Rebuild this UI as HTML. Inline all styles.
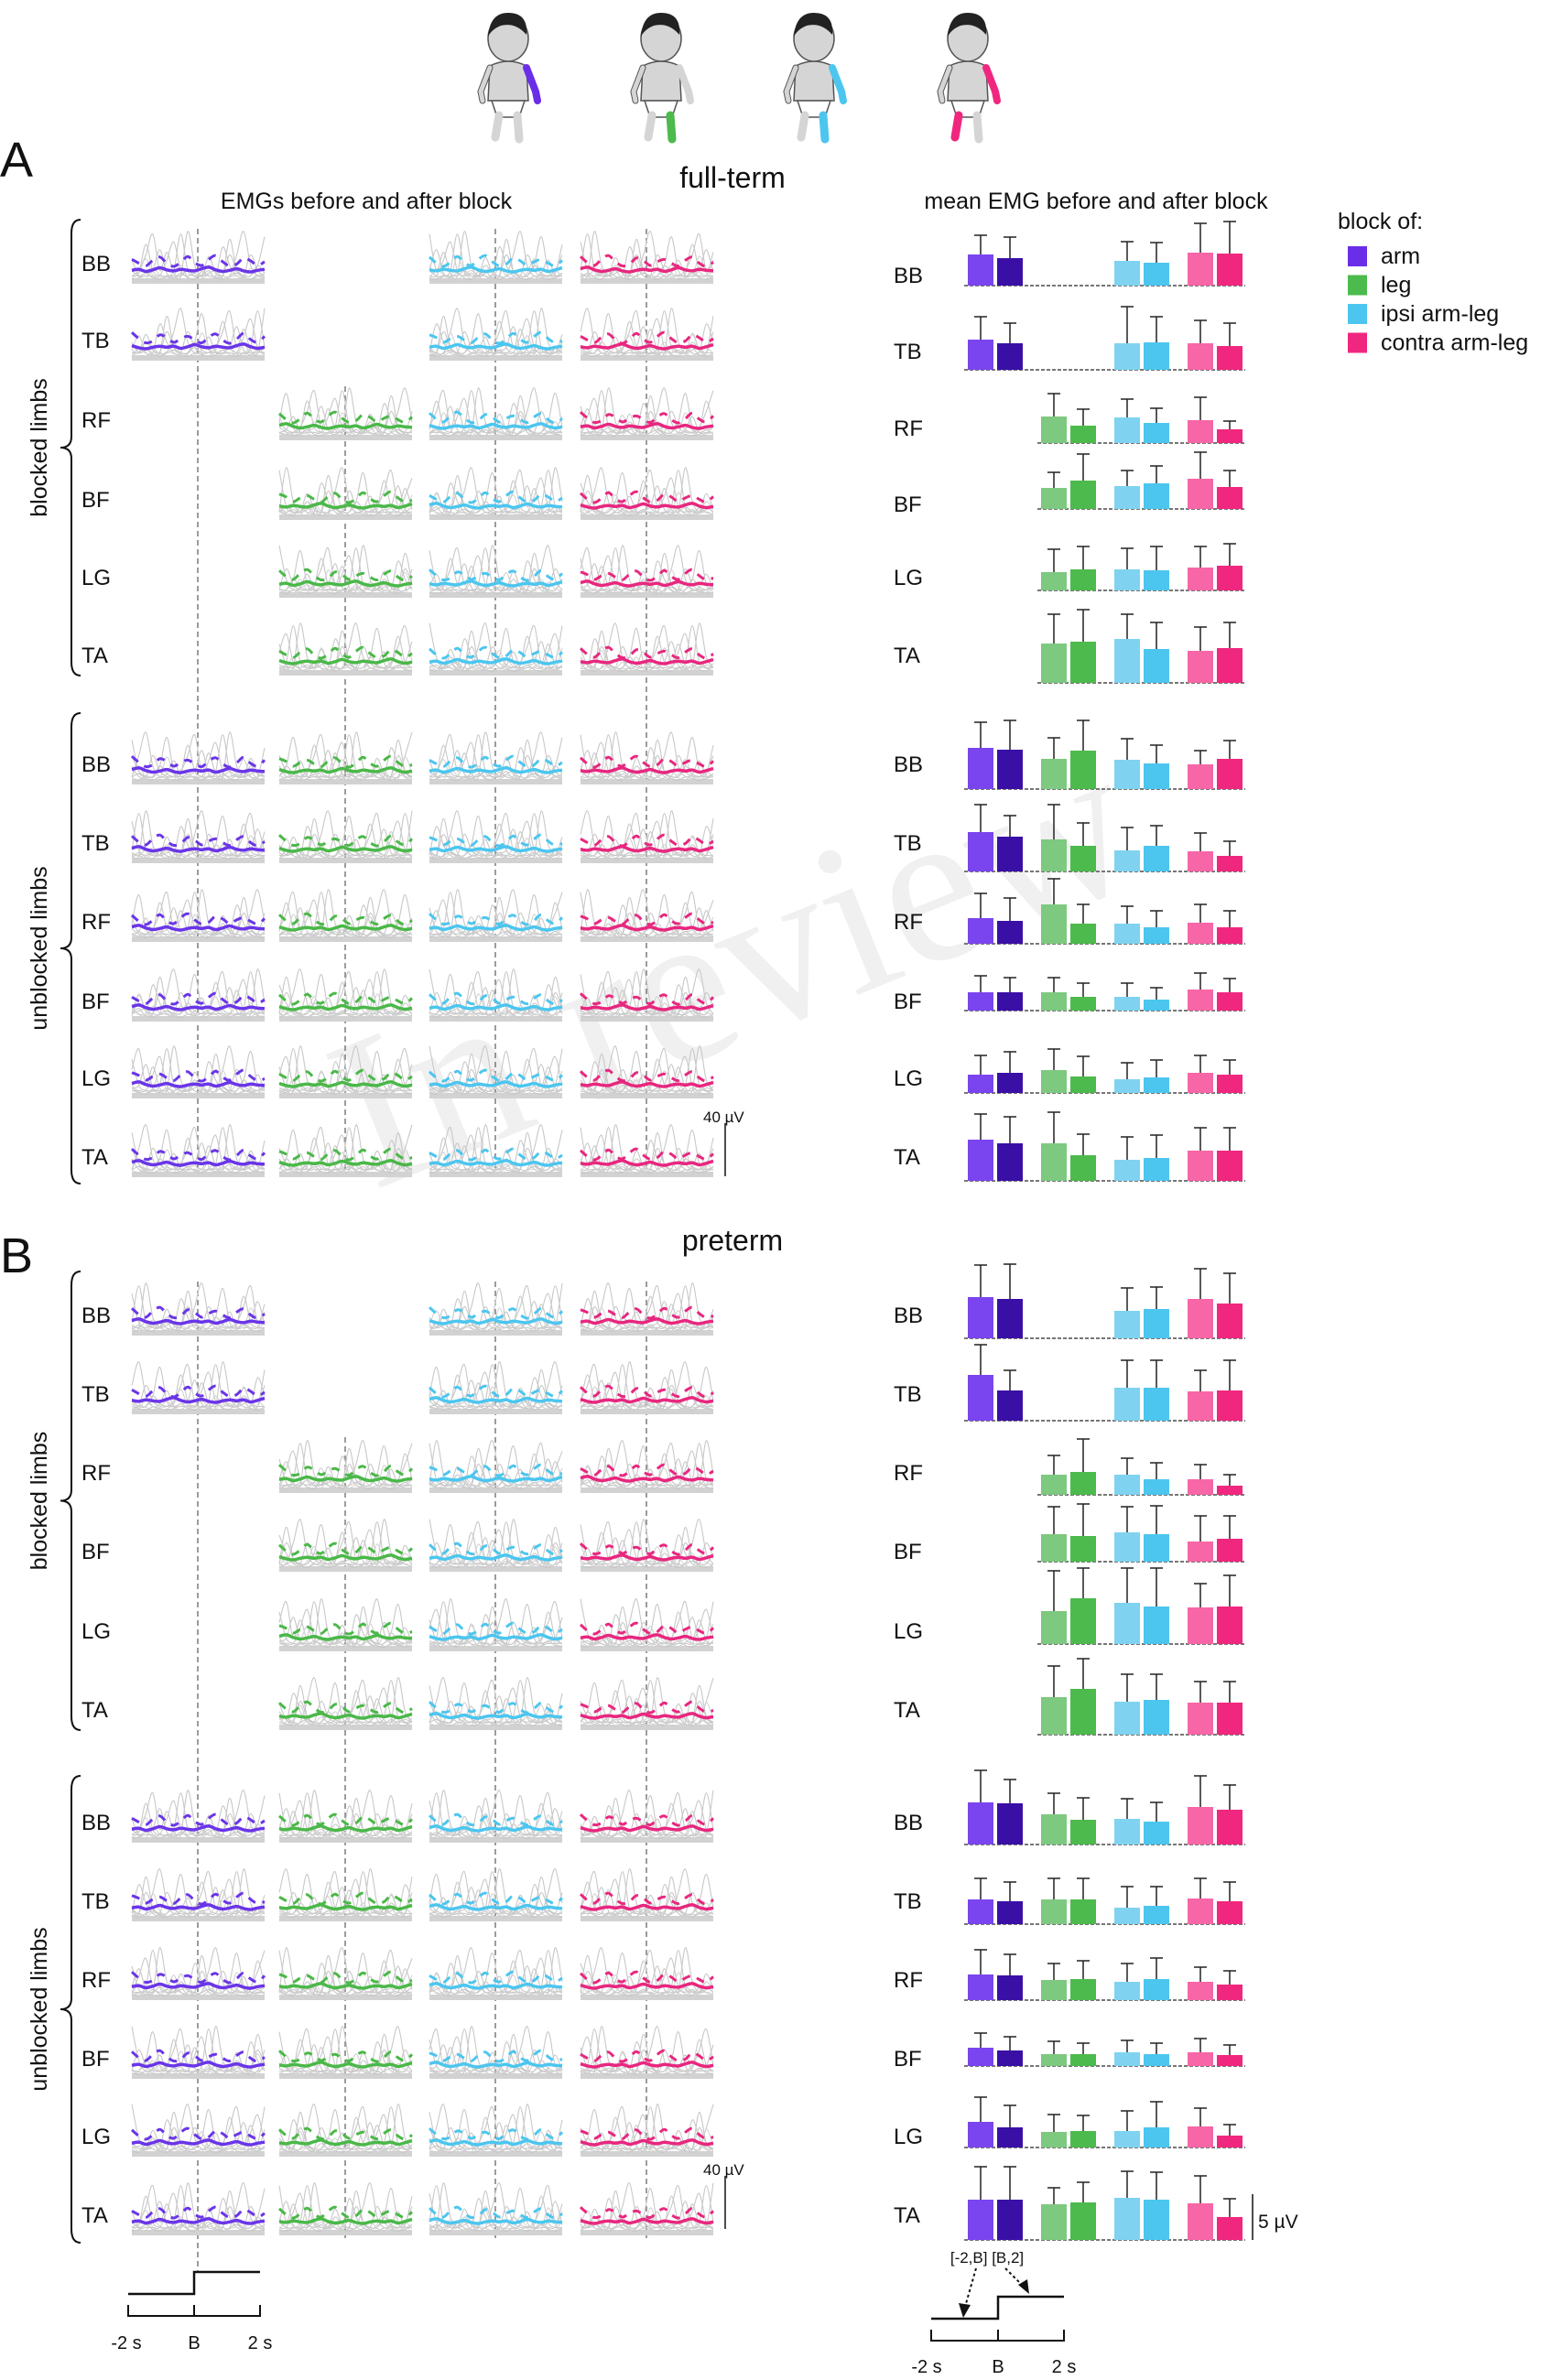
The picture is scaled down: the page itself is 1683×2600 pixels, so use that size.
<!DOCTYPE html>
<html><head><meta charset="utf-8"><style>
html,body{margin:0;padding:0;background:#fff}
svg{display:block}
text{font-family:"Liberation Sans",sans-serif;fill:#111}
</style></head><body>
<svg id="fig" width="1683" height="2600" viewBox="0 0 1683 2600" xmlns="http://www.w3.org/2000/svg">
<text x="830" y="1130" font-size="240" text-anchor="middle" transform="rotate(-22 830 1130)" style="fill:#f0f0f0;font-family:'Liberation Serif',serif">In review</text>
<g id="babies"></g>
<text x="0" y="193" font-size="54">A</text>
<text x="0" y="1390" font-size="54">B</text>
<text x="800" y="205" font-size="32" text-anchor="middle">full-term</text>
<text x="800" y="1366" font-size="32" text-anchor="middle">preterm</text>
<text x="400" y="228" font-size="25" text-anchor="middle">EMGs before and after block</text>
<text x="1197" y="228" font-size="25" text-anchor="middle">mean EMG before and after block</text>
<g id="legend">
<text x="1461" y="250" font-size="25">block of:</text>
</g>
<g id="left"></g>
<g id="right"></g>
</svg>
<script>
// ---- bar chart data (µV): order arm-before, arm-after, leg-before, leg-after, ipsi-before, ipsi-after, contra-before, contra-after
const muscles = ["BB","TB","RF","BF","LG","TA"];
const ftBlockedMean = [
 [3.4,3.0,null,null,2.7,2.5,3.6,3.5],
 [3.3,2.9,null,null,2.9,3.0,2.9,2.6],
 [null,null,2.9,1.9,2.8,2.2,2.5,1.5],
 [null,null,2.3,3.1,2.5,2.8,3.3,2.4],
 [null,null,2.0,2.3,2.3,2.2,2.5,2.7],
 [null,null,4.3,4.5,4.8,3.7,3.5,3.8]];
const ftBlockedUpper = [
 [5.5,5.3,null,null,4.8,4.7,6.8,7.0],
 [5.8,5.1,null,null,6.9,5.8,5.4,5.1],
 [null,null,5.4,3.7,4.8,3.8,5.0,2.4],
 [null,null,4.0,6.0,4.2,4.7,6.2,4.2],
 [null,null,4.5,4.8,4.6,4.8,4.8,5.1],
 [null,null,7.5,8.0,7.5,6.6,6.1,6.6]];
const ftUnblockedMean = [
 [4.5,4.3,3.3,4.2,3.2,2.8,2.7,3.3],
 [4.3,3.8,3.5,2.8,2.3,2.8,2.2,1.7],
 [2.8,2.5,4.3,2.2,2.2,1.8,2.3,1.8],
 [2.0,2.0,2.0,1.5,1.5,1.2,2.3,2.0],
 [2.0,2.2,2.5,1.8,1.5,1.7,2.2,2.0],
 [4.5,4.1,4.1,2.8,2.3,2.5,3.3,3.3]];
const ftUnblockedUpper = [
 [7.3,7.5,5.6,7.5,5.5,4.8,4.2,5.3],
 [7.3,6.1,7.3,5.3,4.8,5.0,4.2,3.3],
 [5.5,5.0,7.1,4.3,4.1,3.6,4.3,3.6],
 [3.8,3.6,3.6,3.0,3.0,2.5,4.1,3.5],
 [4.1,4.5,4.8,4.0,3.3,3.6,4.1,3.6],
 [7.3,7.0,7.5,5.1,4.8,5.0,5.8,5.8]];
const ptBlockedMean = [
 [4.5,4.3,null,null,3.0,3.2,4.3,3.8],
 [5.0,3.3,null,null,3.6,3.6,3.2,3.3],
 [null,null,2.2,2.5,2.2,1.7,1.7,1.0],
 [null,null,3.0,2.8,3.2,3.0,2.2,2.5],
 [null,null,3.6,5.0,4.5,4.1,4.0,4.1],
 [null,null,4.1,5.0,3.6,3.8,3.5,3.5]];
const ptBlockedUpper = [
 [8.0,8.1,null,null,5.5,5.6,7.6,7.1],
 [8.3,5.5,null,null,6.6,6.6,5.5,6.6],
 [null,null,4.3,6.1,4.0,3.5,3.3,2.2],
 [null,null,6.0,6.3,6.0,6.1,5.0,5.0],
 [null,null,8.0,8.3,8.3,8.3,6.6,7.5],
 [null,null,7.5,8.3,6.6,6.6,5.8,5.8]];
const ptUnblockedMean = [
 [4.6,4.5,3.3,2.7,2.8,2.5,4.1,3.8],
 [2.7,2.5,2.7,2.7,1.8,2.0,2.8,2.5],
 [2.8,2.7,2.2,2.3,2.0,2.3,2.0,1.7],
 [2.0,1.7,1.3,1.3,1.5,1.3,1.5,1.2],
 [2.8,2.2,1.7,1.8,1.8,2.2,2.3,1.3],
 [4.4,4.4,3.9,4.1,4.6,4.4,4.0,2.5]];
const ptUnblockedUpper = [
 [8.1,7.1,5.6,5.1,5.0,4.6,7.5,6.5],
 [5.0,4.6,5.0,5.0,4.1,4.1,5.0,4.6],
 [5.5,5.0,4.0,4.3,4.0,4.6,3.6,3.2],
 [3.6,3.2,2.7,2.5,2.8,2.5,3.0,2.3],
 [5.5,4.6,3.6,3.5,4.0,5.0,4.3,2.5],
 [8.0,8.0,5.7,6.3,7.5,7.4,7.0,4.5]];
const legendLabels = ["arm","leg","ipsi arm-leg","contra arm-leg"];

// ---- EMG trace shapes (fraction of panel height)
const grayTrace1 = [0.1,0.15,0.7,0.2,0.1,0.1,0.2,0.9,0.2,0.1,0.1,0.3,0.15,0.1,0.8,0.2,0.1,0.1,0.3,0.15];
const grayTrace2 = [0.2,0.1,0.1,0.3,0.85,0.2,0.1,0.15,0.2,0.6,0.15,0.1,0.1,0.95,0.3,0.1,0.15,0.2,0.1,0.5];
const grayTrace3 = [0.1,0.45,0.15,0.1,0.1,0.5,0.95,0.3,0.1,0.15,0.4,0.1,0.1,0.1,0.1,0.4,0.75,0.2,0.1,0.15];
const grayTrace4 = [0.55,0.15,0.1,0.2,0.1,0.1,0.2,0.1,0.65,0.3,0.1,0.1,0.5,0.2,0.1,0.1,0.2,0.5,0.9,0.2];
const grayTrace5 = [0.05,0.1,0.25,0.1,0.05,0.15,0.1,0.25,0.1,0.05,0.3,0.15,0.1,0.05,0.15,0.25,0.1,0.05,0.15,0.1];
const meanTrace = [0.24,0.26,0.22,0.25,0.29,0.25,0.23,0.26,0.24,0.23,0.27,0.3,0.25,0.22,0.24,0.27,0.23,0.21,0.24,0.26];
const dashTrace = [0.5,0.42,0.36,0.48,0.55,0.42,0.35,0.44,0.56,0.43,0.37,0.5,0.58,0.45,0.36,0.4,0.53,0.47,0.37,0.45];

const NS="http://www.w3.org/2000/svg";
function mk(tag,attrs,parent){const e=document.createElementNS(NS,tag);for(const k in attrs)e.setAttribute(k,attrs[k]);parent.appendChild(e);return e;}

const barCols=[["#7a45ee","#3a0fa6"],["#7dc97f","#4cba4c"],["#7fd3f0","#4cc6ef"],["#f766a6","#f0277f"]];
const lineCols=["#6a35e8","#4ab848","#4cc6ef","#e8277f"];
const legendCols=["#6a2ee8","#4cba4c","#4cc6ef","#f0277f"];

const lg=document.getElementById('legend');
legendLabels.forEach((t,i)=>{
  const r=mk('rect',{x:1472,y:269+i*31.5,width:21,height:22,fill:legendCols[i]},lg);
  
  
  const tx=mk('text',{x:1508,y:288+i*31.5,'font-size':25},lg);tx.textContent=t;
  
  
});

const bb=document.getElementById('babies');
[555,722,889,1057].forEach((cx,i)=>{
  const g=mk('g',{},bb);
  
  
  const body="#d5d5d5",st="#555";
  mk('ellipse',{cx:cx,cy:42,rx:22,ry:25,fill:body,stroke:st,'stroke-width':1.5},g);
  mk('path',{d:`M${cx-22},40 Q${cx-20},14 ${cx},14 Q${cx+22},14 ${cx+20},38 Q${cx+8},24 ${cx-8},28 Q${cx-18},32 ${cx-22},40Z`,fill:"#222"},g);
  mk('path',{d:`M${cx-20},72 Q${cx},62 ${cx+20},72 L${cx+22},110 L${cx-22},110Z`,fill:body,stroke:st,'stroke-width':1.5},g);
  mk('path',{d:`M${cx-20},74 L${cx-30},100 L${cx-28},110`,fill:"none",stroke:st,'stroke-width':7,'stroke-linecap':'round'},g);
  mk('path',{d:`M${cx-20},74 L${cx-30},100 L${cx-28},110`,fill:"none",stroke:body,'stroke-width':5,'stroke-linecap':'round'},g);
  const armC=(i===1)?body:legendCols[i];
  mk('path',{d:`M${cx+20},74 L${cx+30},100 L${cx+32},110`,fill:"none",stroke:armC,'stroke-width':8,'stroke-linecap':'round'},g);
  mk('path',{d:`M${cx-18},110 L${cx+18},110 L${cx+12},128 L${cx-12},128Z`,fill:"#fff",stroke:st,'stroke-width':1.5},g);
  const legL=(i===3)?legendCols[3]:body, legR=(i===1||i===2)?legendCols[i]:body;
  mk('path',{d:`M${cx-10},126 L${cx-14},150`,stroke:legL,'stroke-width':9,'stroke-linecap':'round',fill:'none'},g);
  mk('path',{d:`M${cx+10},126 L${cx+12},152`,stroke:legR,'stroke-width':9,'stroke-linecap':'round',fill:'none'},g);
});

const L=document.getElementById('left');
const colX=[144,305,469,634], PW=145, PH=61;
const grays=[grayTrace1,grayTrace2,grayTrace3,grayTrace4,grayTrace5];
function rot(a,k){k=k%a.length;return a.slice(k).concat(a.slice(0,k));}
function tracePath(arr,x0,yb,h){
  const p=arr.map((v,j)=>[x0+j*PW/(arr.length-1), yb-v*h]);
  let d='M'+p[0][0].toFixed(1)+','+p[0][1].toFixed(1);
  for(let i=0;i<p.length-1;i++){
    const p0=p[Math.max(i-1,0)],p1=p[i],p2=p[i+1],p3=p[Math.min(i+2,p.length-1)];
    const c1=[p1[0]+(p2[0]-p0[0])/6,p1[1]+(p2[1]-p0[1])/6];
    const c2=[p2[0]-(p3[0]-p1[0])/6,p2[1]-(p3[1]-p1[1])/6];
    d+=` C${c1[0].toFixed(1)},${c1[1].toFixed(1)} ${c2[0].toFixed(1)},${c2[1].toFixed(1)} ${p2[0].toFixed(1)},${p2[1].toFixed(1)}`;
  }
  return d;
}
const sections=[
 {name:'full-term',labels:[287,371,458,545,630,715,834,920,1006,1093,1177,1263],vTop:[250,422,250,250],vBot:[1285,1285,1285,1285]},
 {name:'preterm',labels:[1436,1522,1608,1694,1781,1867,1990,2076,2162,2248,2333,2419],vTop:[1400,1570,1400,1400],vBot:[2482,2445,2445,2445]}
];
let pk=0;
sections.forEach((s,si)=>{
  colX.forEach((x,c)=>{
    const ln=mk('line',{x1:x+72,x2:x+72,y1:s.vTop[c],y2:s.vBot[c],stroke:'#666','stroke-width':1.3,'stroke-dasharray':'6,4'},L);
    
    
  });
  s.labels.forEach((ly,r)=>{
    const m=muscles[r%6];
    const t=mk('text',{x:89,y:ly+9,'font-size':24},L);t.textContent=m;
    
    
    const blocked=r<6;
    colX.forEach((x,c)=>{
      if(blocked && r<2 && c===1) return;
      if(blocked && r>=2 && c===0) return;
      const g=mk('g',{},L);
      
      
      const yb=ly+22, h=PH-4;
      mk('line',{x1:x,x2:x+PW,y1:yb-2,y2:yb-2,stroke:'#d2d2d2','stroke-width':6},g);
      grays.forEach((gt,gi)=>{
        mk('path',{d:tracePath(rot(gt,pk*3+gi*5),x,yb-2,h*(gi===4?0.6:1)),fill:'none',stroke:'#c8c8c8','stroke-width':1.1},g);
      });
      mk('path',{d:tracePath(rot(grayTrace2,pk*7+2),x,yb-2,h*0.5),fill:'none',stroke:'#d0d0d0','stroke-width':1},g);
      mk('path',{d:tracePath(rot(grayTrace5,pk*2+7),x,yb-2,h*0.8),fill:'none',stroke:'#d0d0d0','stroke-width':1},g);
      mk('path',{d:tracePath(rot(dashTrace,pk*4),x,yb,h*0.9),fill:'none',stroke:lineCols[c],'stroke-width':3,'stroke-dasharray':'9,8'},g);
      mk('path',{d:tracePath(rot(meanTrace,pk*5),x,yb,h),fill:'none',stroke:lineCols[c],'stroke-width':3.5},g);
      pk++;
    });
  });
  const br=si===0?[[240,738],[779,1293]]:[[1389,1890],[1940,2450]];
  const bn=['blocked limbs','unblocked limbs'];
  br.forEach((b,k)=>{
    const x=78,ym=(b[0]+b[1])/2;
    const p=mk('path',{d:`M${x+10},${b[0]} Q${x},${b[0]} ${x},${b[0]+15} L${x},${ym-12} Q${x},${ym} ${x-12},${ym} Q${x},${ym} ${x},${ym+12} L${x},${b[1]-15} Q${x},${b[1]} ${x+10},${b[1]}`,fill:'none',stroke:'#111','stroke-width':2},L);
    
    
    const t=mk('text',{x:0,y:0,'font-size':25,'text-anchor':'middle',transform:`translate(51 ${ym}) rotate(-90)`},L);t.textContent=bn[k];
    
    
  });
  const sy=si===0?1227:2377;
  const sb=mk('line',{x1:792,x2:792,y1:sy,y2:sy+58,stroke:'#111','stroke-width':1.5},L);
  
  
  const st=mk('text',{x:768,y:sy-1,'font-size':17},L);st.textContent='40 µV';
  
  
});

(function(){
  const g=mk('g',{},L);
  
  
  mk('path',{d:'M140,2506 L212,2506 L212,2482 L284,2482',fill:'none',stroke:'#111','stroke-width':2.5},g);
  mk('path',{d:'M140,2518 L140,2530 L284,2530 L284,2518 M212,2530 L212,2518',fill:'none',stroke:'#111','stroke-width':2},g);
  [['-2 s',138],['B',212],['2 s',284]].forEach(a=>{const t=mk('text',{x:a[1],y:2566,'font-size':20,'text-anchor':'middle'},g);t.textContent=a[0];});
})();

const R=document.getElementById('right');
const groupX=[1057,1137,1217,1297], BW=28, GAP=4, PXPERUV=10;
function yScale(v,base){return base - v*PXPERUV;}
const barBlocks=[
 {name:'ft-blocked',mean:ftBlockedMean,upper:ftBlockedUpper,base:[312,404,484,556,645,746],labels:[300,383,467,550,630,715]},
 {name:'ft-unblocked',mean:ftUnblockedMean,upper:ftUnblockedUpper,base:[862,952,1031,1104,1194,1290],labels:[834,920,1006,1093,1177,1263]},
 {name:'pt-blocked',mean:ptBlockedMean,upper:ptBlockedUpper,base:[1462,1552,1633,1706,1796,1895],labels:[1436,1522,1608,1694,1781,1867]},
 {name:'pt-unblocked',mean:ptUnblockedMean,upper:ptUnblockedUpper,base:[2015,2102,2185,2257,2346,2447],labels:[1990,2076,2162,2248,2333,2419]}
];
barBlocks.forEach(blk=>{
  blk.mean.forEach((row,r)=>{
    const base=blk.base[r], m=muscles[r];
    const t=mk('text',{x:976,y:blk.labels[r]+9,'font-size':24},R);t.textContent=m;
    
    
    let first=row.findIndex(v=>v!==null);
    const x0=groupX[Math.floor(first/2)]-4;
    const bl=mk('line',{x1:x0,x2:1360,y1:base,y2:base,stroke:'#777','stroke-width':2,'stroke-dasharray':'4,2'},R);
    
    
    row.forEach((v,k)=>{
      if(v===null) return;
      const gi=Math.floor(k/2), side=k%2;
      const x=groupX[gi]+side*(BW+GAP);
      const up=blk.upper[r][k];
      const e=mk('path',{d:`M${x+BW/2},${yScale(v,base)} L${x+BW/2},${yScale(up,base)} M${x+BW/2-7},${yScale(up,base)} L${x+BW/2+7},${yScale(up,base)}`,stroke:'#222','stroke-width':1.5,fill:'none'},R);
      
      
      const b=mk('rect',{x:x,y:yScale(v,base),width:BW,height:v*PXPERUV,fill:barCols[gi][side]},R);
      
      
    });
  });
});
(function(){
  const g=mk('g',{},R);
  
  
  mk('line',{x1:1368,x2:1368,y1:2447-5*PXPERUV,y2:2447,stroke:'#111','stroke-width':1.5},g);
  const t=mk('text',{x:1374,y:2434,'font-size':21},g);t.textContent='5 µV';
})();
(function(){
  const g=mk('g',{},R);
  
  
  mk('path',{d:'M1017,2533 L1090,2533 L1090,2509 L1162,2509',fill:'none',stroke:'#111','stroke-width':2.5},g);
  mk('path',{d:'M1017,2545 L1017,2557 L1162,2557 L1162,2545 M1090,2557 L1090,2545',fill:'none',stroke:'#111','stroke-width':2},g);
  [['-2 s',1012],['B',1090],['2 s',1162]].forEach(a=>{const t=mk('text',{x:a[1],y:2592,'font-size':20,'text-anchor':'middle'},g);t.textContent=a[0];});
  const t=mk('text',{x:1078,y:2472,'font-size':17,'text-anchor':'middle'},g);t.textContent='[-2,B] [B,2]';
  mk('path',{d:'M1066,2478 L1054,2520',stroke:'#111','stroke-width':2,'stroke-dasharray':'3,3',fill:'none'},g);
  mk('path',{d:'M1047,2516 L1052,2532 L1060,2518Z',fill:'#111'},g);
  mk('path',{d:'M1098,2478 L1118,2498',stroke:'#111','stroke-width':2,'stroke-dasharray':'3,3',fill:'none'},g);
  mk('path',{d:'M1112,2496 L1124,2506 L1122,2490Z',fill:'#111'},g);
})();
</script>
</body></html>
